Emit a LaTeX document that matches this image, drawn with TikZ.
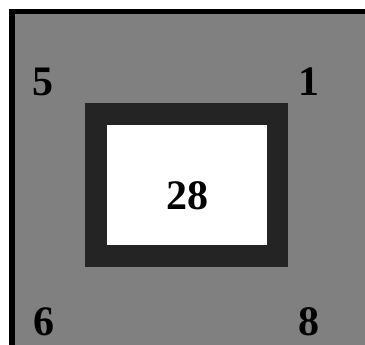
\documentclass[tikz,border=0pt]{standalone}
\usepackage{fontspec}
\setmainfont{Liberation Serif}
\begin{document}
\begin{tikzpicture}[x=1pt,y=-1pt,line width=0.4pt,every node/.style={font=\bfseries\fontsize{42}{42}\selectfont,inner sep=0pt,text depth=0pt}]
\useasboundingbox (0,0) rectangle (365,345);
\coordinate (O) at (15,14);
\coordinate (Z) at (365,345);
\fill[black!50] (O) rectangle (Z);
\fill[black] (9,9.5) rectangle (365,14);
\fill[black] (9,9.5) rectangle (15,345);
\fill[black!86] (85,103) rectangle (288,267);
\fill[white] (107,125) rectangle (267,245);
\node (n28) at (187,196) {28};
\node (n5) at (43,82) {5};
\node (n1) at (309,82) {1};
\node (n6) at (44,322) {6};
\node (n8) at (309,322) {8};
\end{tikzpicture}
\end{document}
